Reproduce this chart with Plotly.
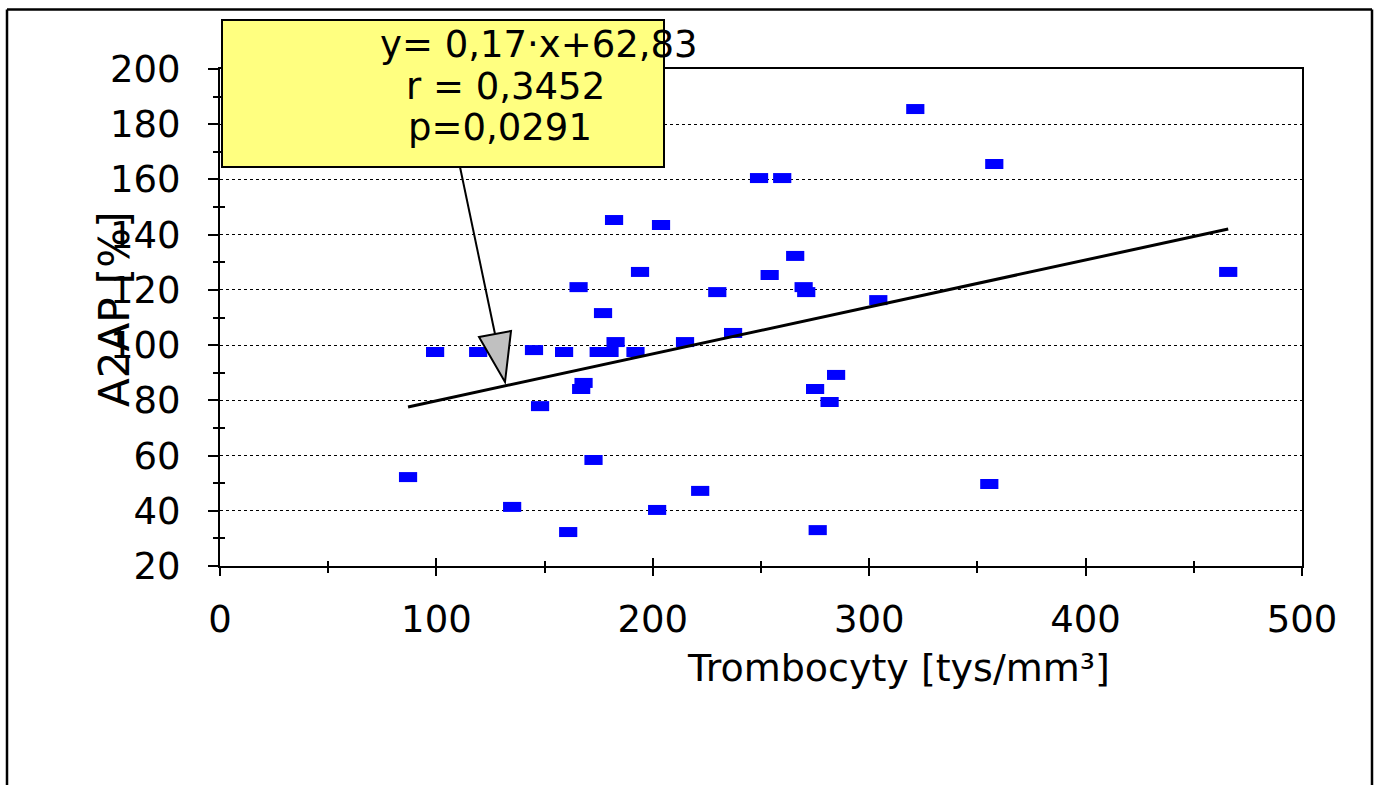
import plotly.graph_objects as go

# ---- data ----
trombocyty = [86.9, 99.4, 119.3, 135.0, 145.1, 147.9, 159.0, 160.9, 165.7, 166.9,
              168.0, 172.6, 175.0, 177.0, 180.0, 182.1, 182.8, 192.0, 194.1, 202.0,
              203.8, 214.9, 221.9, 229.8, 237.1, 249.1, 254.0, 259.8, 265.8, 269.7,
              270.9, 275.0, 276.2, 281.7, 284.7, 304.2, 321.3, 355.5, 357.8, 465.9]
a2ap = [52.2, 97.5, 97.5, 41.4, 98.2, 77.9, 97.5, 32.3, 121.0, 84.1,
        86.3, 58.4, 97.5, 111.6, 97.5, 145.3, 101.1, 97.5, 126.5, 40.3,
        143.5, 101.1, 47.2, 119.2, 104.4, 160.5, 125.4, 160.5, 132.3, 121.0,
        119.2, 84.1, 33.0, 79.4, 89.2, 116.3, 185.5, 49.7, 165.6, 126.5]
slope = 0.17
intercept = 62.83
x_ticks = [0, 100, 200, 300, 400, 500]
y_ticks = [20, 40, 60, 80, 100, 120, 140, 160, 180, 200]
stats_lines = ["y= 0,17\u00b7x+62,83", "r = 0,3452", "p=0,0291"]
x_title = "Trombocyty [tys/mm\u00b3]"
y_title = "A2AP [%]"

FONT = "DejaVu Sans, Liberation Sans, Arial, sans-serif"
W, H = 1379, 785
L, R, T, B = 220, 77, 69, 219
PW, PH = W - L - R, H - T - B


def P(x, y):
    """pixel position -> paper coordinates (for decorations only)"""
    return (x - L) / PW, (H - B - y) / PH


fit_x = [min(trombocyty), max(trombocyty)]
fit_y = [slope * v + intercept for v in fit_x]

fig = go.Figure()
fig.add_trace(go.Scatter(
    x=trombocyty, y=a2ap, mode="markers",
    marker=dict(symbol="line-ew", size=13, line=dict(width=10, color="#0000FF")),
    showlegend=False, hoverinfo="x+y"))
fig.add_trace(go.Scatter(
    x=fit_x, y=fit_y, mode="lines", line=dict(color="black", width=3),
    showlegend=False))
# helper trace for overlay axes (inside tick marks)
fig.add_trace(go.Scatter(x=[None], y=[None], xaxis="x2", yaxis="y2",
                         showlegend=False, hoverinfo="skip"))

axis_common = dict(showline=True, linecolor="black", linewidth=2, mirror=True,
                   zeroline=False, automargin=False,
                   tickfont=dict(family=FONT, size=37, color="black"),
                   tickcolor="black", tickwidth=2)

fig.update_layout(
    width=W, height=H, template="none",
    margin=dict(l=L, r=R, t=T, b=B, pad=0),
    paper_bgcolor="white", plot_bgcolor="white",
    font=dict(family=FONT, color="black"),
    xaxis=dict(range=[0, 500], tickvals=x_ticks, ticks="outside", ticklen=8,
               minor=dict(dtick=50, tick0=0, ticks="outside", ticklen=5,
                          tickwidth=2, tickcolor="black", showgrid=False),
               showgrid=False, ticklabelstandoff=12, **axis_common),
    yaxis=dict(range=[20, 200], tickvals=y_ticks, ticks="outside", ticklen=10,
               minor=dict(dtick=10, tick0=0, ticks="outside", ticklen=5,
                          tickwidth=2, tickcolor="black", showgrid=False),
               showgrid=True, gridcolor="black", gridwidth=1, griddash="dot",
               ticklabelstandoff=20, **axis_common),
    xaxis2=dict(range=[0, 500], tickvals=x_ticks, overlaying="x", anchor="y2",
                side="bottom", ticks="inside", ticklen=8, tickwidth=2,
                tickcolor="black",
                minor=dict(dtick=50, tick0=0, ticks="inside", ticklen=5,
                           tickwidth=2, tickcolor="black"),
                showticklabels=False, showgrid=False, showline=False,
                zeroline=False, automargin=False),
    yaxis2=dict(range=[20, 200], overlaying="y", anchor="x2", side="left",
                ticks="", showticklabels=False,
                minor=dict(dtick=10, tick0=0, ticks="inside", ticklen=5,
                           tickwidth=2, tickcolor="black"),
                showgrid=False, showline=False, zeroline=False,
                automargin=False),
)

shapes = []
# outer frame
for (x0, y0, x1, y1) in [(7, 9.5, 7, 800), (7, 9.5, 1372, 9.5), (1372, 9.5, 1372, 800)]:
    a, b = P(x0, y0)
    c, d = P(x1, y1)
    shapes.append(dict(type="line", xref="paper", yref="paper", x0=a, y0=b, x1=c, y1=d,
                       line=dict(color="black", width=2.5), layer="above"))
# yellow statistics box
a, b = P(222, 20)
c, d = P(664, 167)
shapes.append(dict(type="rect", xref="paper", yref="paper", x0=a, y0=d, x1=c, y1=b,
                   fillcolor="#FFFF80", line=dict(color="black", width=2), layer="above"))
# arrow shaft
a, b = P(460, 167)
c, d = P(495, 334)
shapes.append(dict(type="line", xref="paper", yref="paper", x0=a, y0=b, x1=c, y1=d,
                   line=dict(color="black", width=2), layer="above"))
# arrow head (grey triangle)
pts = [P(479, 337), P(511, 331), P(505, 382)]
path = "M {:.5f},{:.5f} L {:.5f},{:.5f} L {:.5f},{:.5f} Z".format(*[v for p in pts for v in p])
shapes.append(dict(type="path", xref="paper", yref="paper", path=path,
                   fillcolor="#C0C0C0", line=dict(color="black", width=2), layer="above"))
fig.update_layout(shapes=shapes)

annotations = []
for text, (cx, cy) in zip(stats_lines, [(539, 44), (505, 86), (500, 127)]):
    px_, py_ = P(cx, cy)
    annotations.append(dict(text=text, x=px_, y=py_, xref="paper", yref="paper",
                            xanchor="center", yanchor="middle", showarrow=False,
                            font=dict(family=FONT, size=37, color="black")))
px_, py_ = P(898, 668)
annotations.append(dict(text=x_title, x=px_, y=py_, xref="paper", yref="paper",
                        xanchor="center", yanchor="middle", showarrow=False,
                        font=dict(family=FONT, size=38, color="black")))
px_, py_ = P(114, 309)
annotations.append(dict(text=y_title, x=px_, y=py_, xref="paper", yref="paper",
                        xanchor="center", yanchor="middle", showarrow=False,
                        textangle=-90,
                        font=dict(family=FONT, size=42, color="black")))
fig.update_layout(annotations=annotations)

fig.write_html("out.html")
